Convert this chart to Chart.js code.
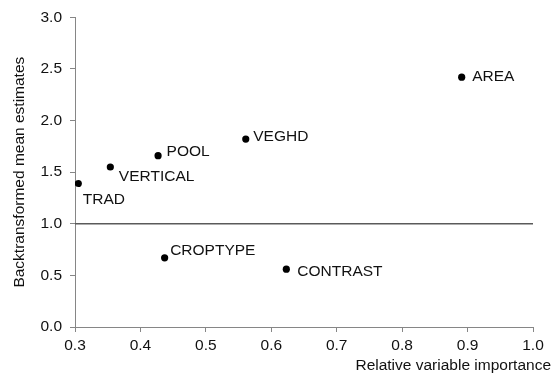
<!DOCTYPE html>
<html>
<head>
<meta charset="utf-8">
<script src="https://cdn.jsdelivr.net/npm/chart.js@4/dist/chart.umd.min.js"></script>
<style>
  html, body { margin: 0; padding: 0; background: #ffffff; }
  #wrap { width: 556px; height: 378px; }
</style>
</head>
<body>
<div id="wrap"><canvas id="c" width="556" height="378"></canvas></div>
<script>
// Predictor variables, their relative importance and backtransformed mean estimates
const variables     = ['TRAD', 'VERTICAL', 'POOL', 'VEGHD', 'AREA', 'CROPTYPE', 'CONTRAST'];
const importance    = [0.305, 0.354, 0.427, 0.561, 0.891, 0.437, 0.623];
const meanEstimates = [1.39, 1.55, 1.66, 1.82, 2.42, 0.67, 0.56];

// Axis ticks and the reference level (estimate of 1 = no effect)
const xTicks = [0.3, 0.4, 0.5, 0.6, 0.7, 0.8, 0.9, 1.0];
const yTicks = [0.0, 0.5, 1.0, 1.5, 2.0, 2.5, 3.0];
const referenceLevel = 1.0;

const xTitle = 'Relative variable importance';
const yTitle = 'Backtransformed mean estimates';

// Where each point's name sits relative to the marker (pixels)
const labelOffsets = {
  TRAD:     { dx: 4.5,  dy: 16.5 },
  VERTICAL: { dx: 8.5,  dy: 10 },
  POOL:     { dx: 8.5,  dy: -3.5 },
  VEGHD:    { dx: 7.5,  dy: -2.5 },
  AREA:     { dx: 10.5, dy: 0 },
  CROPTYPE: { dx: 5.5,  dy: -7.5 },
  CONTRAST: { dx: 11,   dy: 2.5 }
};

const FONT = 'Liberation Sans, Arial, Helvetica, sans-serif';
const SIZE = 15.5;
const AXIS_GREY = '#868686';
const TEXT = '#111111';

// Names next to the markers, plus the x-axis title hanging past the axis end
const annotations = {
  id: 'annotations',
  afterDatasetsDraw(chart) {
    const meta = chart.getDatasetMeta(1);
    const ctx = chart.ctx;
    ctx.save();
    ctx.font = SIZE + 'px ' + FONT;
    ctx.fillStyle = TEXT;
    ctx.textAlign = 'left';
    ctx.textBaseline = 'middle';
    meta.data.forEach((el, i) => {
      const name = variables[i];
      const off = labelOffsets[name];
      ctx.fillText(name, el.x + off.dx, el.y + off.dy);
    });
    ctx.textAlign = 'right';
    ctx.fillText(xTitle, chart.chartArea.right + 18, chart.chartArea.bottom + 38.5);
    ctx.restore();
  }
};

const fmt = v => Number(v).toFixed(1);

new Chart(document.getElementById('c'), {
  data: {
    datasets: [
      {
        type: 'line',
        data: [
          { x: xTicks[0], y: referenceLevel },
          { x: xTicks[xTicks.length - 1], y: referenceLevel }
        ],
        borderColor: '#5a5a5a',
        borderWidth: 1.5,
        pointRadius: 0,
        fill: false
      },
      {
        type: 'scatter',
        data: variables.map((v, i) => ({ x: importance[i], y: meanEstimates[i] })),
        backgroundColor: '#000000',
        borderWidth: 0,
        pointRadius: 3.6,
        pointHoverRadius: 3.6
      }
    ]
  },
  options: {
    responsive: false,
    devicePixelRatio: 1,
    animation: false,
    events: [],
    layout: { padding: { left: 0, right: 23, top: 15, bottom: 0 } },
    plugins: { legend: { display: false }, tooltip: { enabled: false } },
    scales: {
      x: {
        type: 'linear',
        position: 'bottom',
        min: xTicks[0],
        max: xTicks[xTicks.length - 1],
        afterBuildTicks: s => { s.ticks = xTicks.map(v => ({ value: v })); },
        afterFit: s => { s.height = 51; },
        grid: { drawOnChartArea: false, drawTicks: true, tickLength: 5, color: AXIS_GREY, tickColor: AXIS_GREY },
        border: { display: true, color: AXIS_GREY, width: 1 },
        ticks: { callback: fmt, color: TEXT, font: { family: FONT, size: SIZE }, padding: 4, maxRotation: 0 }
      },
      y: {
        type: 'linear',
        position: 'left',
        min: yTicks[0],
        max: yTicks[yTicks.length - 1],
        afterBuildTicks: s => { s.ticks = yTicks.map(v => ({ value: v })); },
        afterFit: s => { s.width = 75; },
        grid: { drawOnChartArea: false, drawTicks: true, tickLength: 5, color: AXIS_GREY, tickColor: AXIS_GREY },
        border: { display: true, color: AXIS_GREY, width: 1 },
        ticks: { callback: fmt, color: TEXT, font: { family: FONT, size: SIZE }, padding: 8 },
        title: {
          display: true,
          text: yTitle,
          color: TEXT,
          font: { family: FONT, size: SIZE },
          padding: { top: 10, bottom: 0 }
        }
      }
    }
  },
  plugins: [annotations]
});
</script>
</body>
</html>
